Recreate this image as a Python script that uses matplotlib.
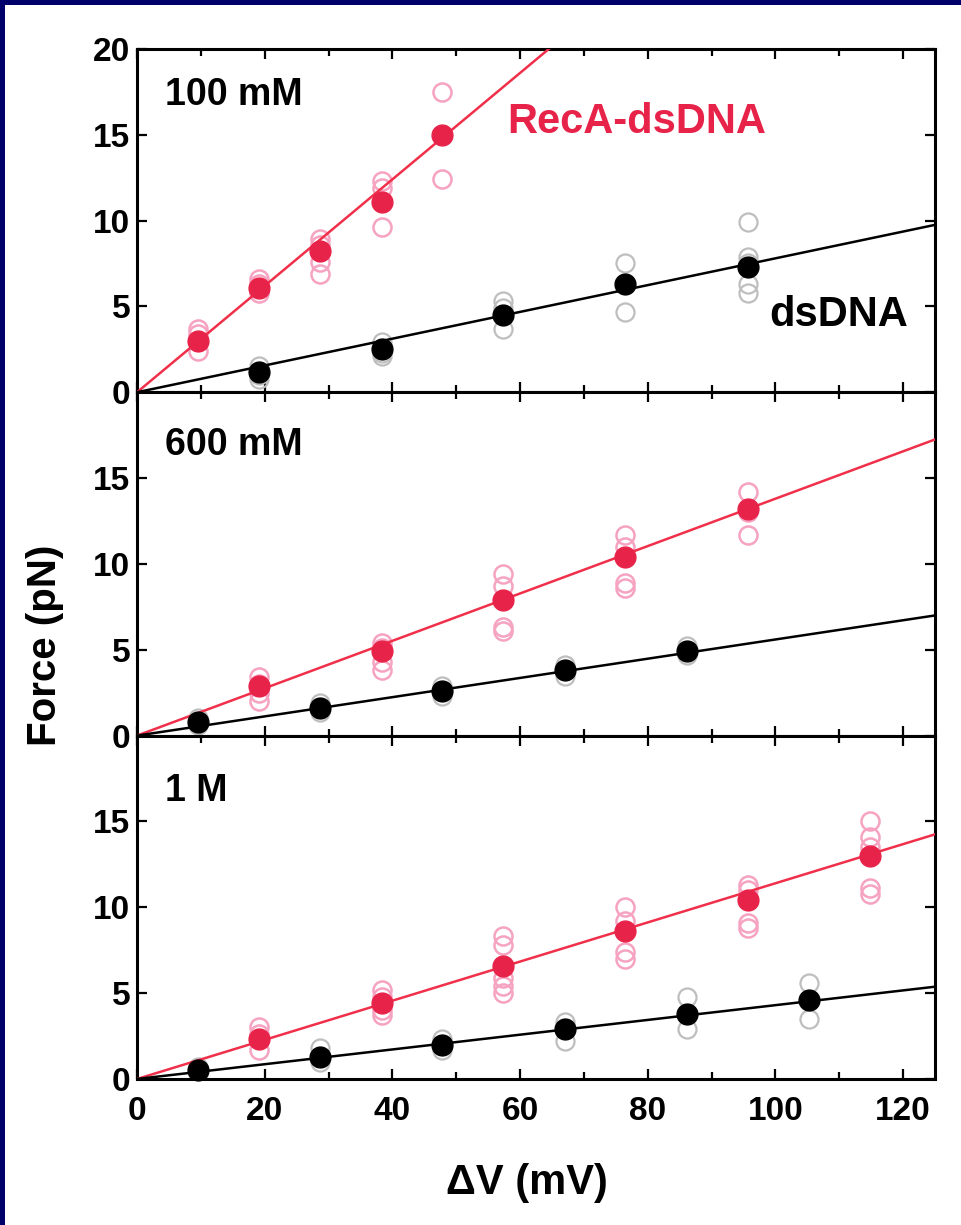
import matplotlib
matplotlib.use('Agg')
import matplotlib.pyplot as plt
from matplotlib import font_manager
from matplotlib.patches import Rectangle
from matplotlib.ticker import MultipleLocator

# ---- data ----
panel_labels = ['100 mM', '600 mM', '1 M']

# 100 mM
recA_x_100 = [9.6, 19.1, 28.7, 38.3, 47.8]
recA_mean_100 = [3.0, 6.1, 8.2, 11.1, 15.0]
recA_runs_100 = [[3.7, 3.4, 2.4], [6.6, 6.3, 5.8], [8.9, 8.6, 7.6, 6.9],
                 [12.3, 11.9, 9.6], [17.5, 12.4]]
ds_x_100 = [19.1, 38.3, 57.4, 76.5, 95.7]
ds_mean_100 = [1.2, 2.5, 4.5, 6.3, 7.3]
ds_runs_100 = [[1.5, 1.0, 0.8], [2.9, 2.3, 2.1], [5.3, 4.9, 3.7],
               [7.5, 4.7], [9.9, 7.9, 7.5, 6.3, 5.8]]

# 600 mM
recA_x_600 = [19.1, 38.3, 57.4, 76.5, 95.7]
recA_mean_600 = [2.9, 4.9, 7.9, 10.4, 13.2]
recA_runs_600 = [[3.4, 3.0, 2.5, 2.0], [5.4, 5.1, 4.3, 3.8], [9.4, 8.7, 6.3, 6.1],
                 [11.7, 11.0, 8.9, 8.6], [14.2, 13.0, 11.7]]
ds_x_600 = [9.6, 28.7, 47.8, 67.0, 86.1]
ds_mean_600 = [0.8, 1.6, 2.6, 3.8, 4.9]
ds_runs_600 = [[1.0, 0.6], [1.9, 1.4], [2.9, 2.3], [4.1, 3.5], [5.2, 4.7]]

# 1 M
recA_x_1M = [19.1, 38.3, 57.4, 76.5, 95.7, 114.8]
recA_mean_1M = [2.3, 4.4, 6.6, 8.6, 10.4, 13.0]
recA_runs_1M = [[3.0, 2.6, 1.7], [5.2, 4.8, 4.0, 3.7], [8.3, 7.8, 5.9, 5.4, 5.0],
                [10.0, 9.2, 7.4, 7.0], [11.3, 11.0, 9.1, 8.8],
                [15.0, 14.1, 13.5, 11.1, 10.8]]
ds_x_1M = [9.6, 28.7, 47.8, 67.0, 86.1, 105.2]
ds_mean_1M = [0.5, 1.3, 2.0, 2.9, 3.8, 4.6]
ds_runs_1M = [[0.7, 0.3], [1.8, 1.0], [2.3, 1.7], [3.3, 2.2], [4.8, 2.9], [5.6, 3.5]]

# slopes of the linear fits through the origin (pN/mV)
recA_slopes = [0.31, 0.138, 0.114]
ds_slopes = [0.078, 0.056, 0.043]

panels = [
    (recA_x_100, recA_mean_100, recA_runs_100, ds_x_100, ds_mean_100, ds_runs_100),
    (recA_x_600, recA_mean_600, recA_runs_600, ds_x_600, ds_mean_600, ds_runs_600),
    (recA_x_1M, recA_mean_1M, recA_runs_1M, ds_x_1M, ds_mean_1M, ds_runs_1M),
]

# ---- fonts ----
installed = {f.name for f in font_manager.fontManager.ttflist}
narrow = 'Liberation Sans Narrow' if 'Liberation Sans Narrow' in installed else 'Liberation Sans'
plt.rcParams['font.family'] = ['Liberation Sans', 'DejaVu Sans']

red = '#E8234A'
red_line = '#F0304A'
pink = '#F6A3C1'
grey = '#BEBEBE'

fig = plt.figure(figsize=(9.61, 12.25), dpi=100)
fig.patch.set_facecolor('#00006A')
fig.patches.append(Rectangle((5 / 961, 0), 1, 1 - 5 / 1225, transform=fig.transFigure,
                             facecolor='white', edgecolor='none', zorder=-10))

left, width = 0.1426, 0.8304
base, height = 0.1192, 0.2803
bottoms = [base + 2 * height, base + height, base]

for i, (rx, rm, rr, dx, dm, dr) in enumerate(panels):
    ax = fig.add_axes([left, bottoms[i], width, height])
    ax.set_facecolor('white')

    # individual runs (open circles)
    for x, ys in zip(rx, rr):
        ax.plot([x] * len(ys), ys, 'o', ms=13, mfc='none', mec=pink, mew=1.8, zorder=2)
    for x, ys in zip(dx, dr):
        ax.plot([x] * len(ys), ys, 'o', ms=13, mfc='none', mec=grey, mew=1.6, zorder=2)

    # fits
    ax.axline((0, 0), slope=recA_slopes[i], color=red_line, lw=1.8, zorder=3)
    ax.axline((0, 0), slope=ds_slopes[i], color='black', lw=1.8, zorder=3)

    # means
    ax.plot(rx, rm, 'o', ms=15, color=red, mec=red, zorder=4, clip_on=False)
    ax.plot(dx, dm, 'o', ms=15, color='black', zorder=4, clip_on=False)

    ax.set_xlim(0, 125)
    ax.set_ylim(0, 20)
    ax.xaxis.set_major_locator(MultipleLocator(20))
    ax.xaxis.set_minor_locator(MultipleLocator(10))
    ax.yaxis.set_major_locator(MultipleLocator(5))
    ax.tick_params(which='both', direction='in', top=True, right=True, width=1.6)
    ax.tick_params(which='major', length=7)
    ax.tick_params(which='minor', length=5)
    ax.tick_params(axis='y', pad=5)
    ax.tick_params(axis='x', pad=12)
    for s in ax.spines.values():
        s.set_linewidth(2.2)

    yt = [0, 5, 10, 15, 20] if i == 0 else [0, 5, 10, 15]
    ax.set_yticks(yt)
    ax.set_yticklabels([str(v) for v in yt], fontfamily=narrow, fontweight='bold', fontsize=24)
    if i < 2:
        ax.tick_params(axis='x', labelbottom=False)
    else:
        for lab in ax.get_xticklabels():
            lab.set_fontfamily(narrow)
            lab.set_fontweight('bold')
            lab.set_fontsize(24)

    ax.text(0.035, [0.836, 0.818, 0.81][i], panel_labels[i], transform=ax.transAxes,
            fontsize=27, fontweight='bold', va='baseline', ha='left')

    if i == 0:
        ax.text(58.0, 15.1, 'RecA-dsDNA', color=red, fontsize=30, fontweight='bold',
                va='baseline', ha='left')
        ax.text(99, 3.87, 'dsDNA', color='black', fontsize=30, fontweight='bold',
                va='baseline', ha='left')

fig.text(45 / 961, 1 - 645 / 1225, 'Force (pN)', rotation=90, fontsize=29,
         fontweight='bold', ha='center', va='center')
fig.text(527 / 961, 1 - 1183 / 1225, '\u0394V (mV)', fontsize=30, fontfamily=narrow,
         fontweight='bold', ha='center', va='center')

fig.savefig('out.png', dpi=100, facecolor=fig.get_facecolor())
